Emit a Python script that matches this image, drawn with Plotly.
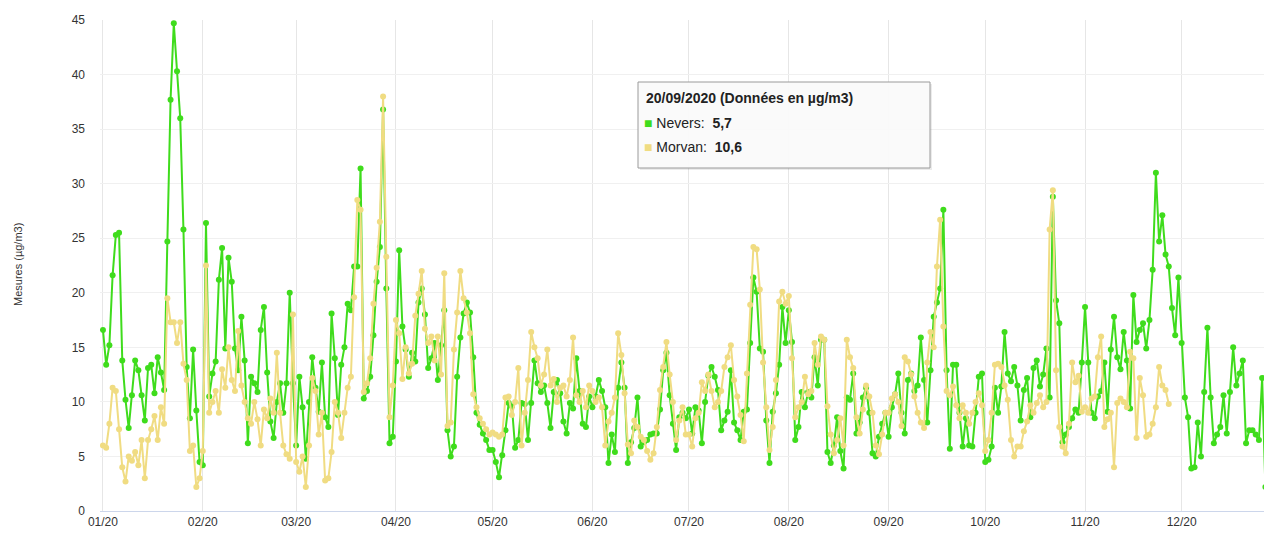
import pandas as pd
import plotly.graph_objects as go

# ---- Data (daily values, µg/m3) ----
nevers_jan = [16.6, 13.4, 15.2, 21.6, 25.3, 25.5, 13.8, 10.2, 7.6, 10.6, 13.8, 12.9, 10.6, 8.3, 13.1, 13.4, 10.8, 14.1, 12.7, 11.1, 24.7, 37.7, 44.7, 40.3, 36.0, 25.8, 13.2, 8.5, 14.8, 9.2, 4.5]
nevers_feb = [4.2, 26.4, 10.5, 12.6, 13.7, 21.2, 24.1, 14.9, 23.2, 21.0, 14.9, 12.9, 17.8, 13.8, 6.2, 12.3, 11.7, 10.9, 16.6, 18.7, 12.7, 8.2, 6.7, 10.0, 11.7, 9.0, 11.7, 20.0, 11.7]
nevers_mar = [6.0, 12.3, 9.5, 4.8, 10.0, 14.1, 11.3, 9.1, 13.6, 8.6, 7.7, 18.1, 14.0, 8.8, 13.4, 15.0, 19.0, 18.4, 22.4, 22.4, 31.4, 10.3, 11.0, 12.3, 16.1, 21.0, 24.2, 36.8, 20.4, 6.2, 6.8]
nevers_apr = [13.7, 23.9, 16.9, 14.8, 12.3, 14.5, 13.7, 19.1, 20.4, 18.0, 13.1, 14.0, 15.4, 12.0, 15.2, 18.4, 7.4, 5.0, 5.9, 12.3, 15.9, 18.1, 19.1, 18.2, 14.1, 9.0, 7.9, 7.1, 6.5, 5.6]
nevers_may = [5.6, 4.5, 3.1, 5.1, 7.4, 9.9, 9.6, 5.8, 6.5, 9.9, 9.8, 6.5, 9.9, 13.8, 11.7, 10.9, 11.5, 9.9, 7.6, 10.9, 12.0, 10.8, 8.2, 7.1, 9.9, 9.4, 14.0, 11.0, 8.0, 7.7, 10.5]
nevers_jun = [9.5, 10.5, 12.0, 11.0, 9.5, 4.4, 7.0, 5.4, 11.3, 13.6, 11.3, 4.4, 6.3, 7.6, 10.4, 5.9, 6.3, 6.5, 7.0, 7.1, 7.1, 9.3, 12.9, 14.5, 10.6, 8.0, 5.6, 8.6, 9.0, 8.5]
nevers_jul = [9.3, 7.1, 9.5, 9.2, 6.2, 10.0, 12.4, 13.2, 12.3, 11.1, 7.4, 8.3, 9.1, 12.9, 8.1, 7.4, 6.5, 9.1, 9.3, 15.4, 21.4, 20.1, 14.9, 14.6, 8.3, 4.4, 9.1, 10.8, 13.4, 18.7, 15.4]
nevers_aug = [18.4, 15.5, 6.5, 7.7, 10.9, 9.5, 10.9, 10.4, 14.1, 11.5, 15.7, 15.7, 5.4, 4.4, 6.0, 8.6, 5.5, 3.9, 10.4, 10.2, 12.6, 7.1, 8.1, 10.4, 11.3, 9.0, 5.3, 5.0, 6.8, 8.0, 9.0]
nevers_sep = [6.8, 9.5, 10.7, 12.6, 9.0, 7.1, 12.0, 12.6, 11.0, 11.5, 15.9, 12.0, 8.1, 12.9, 17.8, 19.1, 20.4, 27.6, 12.9, 5.7, 13.4, 13.4, 9.0, 5.9, 8.5, 6.0, 5.9, 9.0, 12.3, 12.6]
nevers_oct = [4.5, 4.7, 5.9, 11.3, 9.0, 11.4, 16.4, 12.6, 11.9, 13.2, 11.5, 8.3, 11.1, 12.2, 8.6, 13.1, 13.8, 11.4, 12.5, 14.9, 10.4, 28.8, 19.3, 17.2, 6.3, 7.0, 7.7, 8.5, 9.3, 9.0, 13.6]
nevers_nov = [18.7, 13.6, 9.0, 8.5, 10.5, 11.0, 13.6, 9.1, 14.8, 17.8, 14.1, 13.0, 16.4, 13.8, 9.4, 19.8, 15.5, 16.6, 17.2, 14.9, 17.5, 22.1, 31.0, 24.7, 27.1, 23.5, 22.4, 18.6, 16.1, 21.4]
nevers_dec = [15.4, 10.4, 8.6, 3.9, 4.0, 8.1, 5.0, 10.9, 16.8, 10.4, 6.2, 7.0, 7.7, 10.6, 7.1, 10.9, 15.0, 11.5, 12.6, 13.8, 6.2, 7.4, 7.4, 7.0, 6.5, 12.2, 2.2, 3.1, 8.3]

morvan_jan = [6.0, 5.8, 8.0, 11.3, 11.0, 7.5, 4.0, 2.7, 5.0, 4.6, 5.4, 4.2, 6.5, 3.0, 6.5, 7.5, 8.7, 6.5, 9.5, 8.0, 19.5, 17.3, 17.3, 15.4, 17.3, 13.5, 12.0, 5.5, 6.0, 2.2, 3.0]
morvan_feb = [5.5, 22.5, 9.0, 10.0, 11.0, 9.0, 13.0, 11.3, 15.0, 12.0, 11.0, 16.5, 11.5, 10.0, 8.5, 8.0, 10.0, 8.4, 6.0, 9.3, 8.5, 10.3, 9.0, 14.5, 9.0, 6.0, 5.2, 4.8, 18.0]
morvan_mar = [4.5, 3.6, 5.0, 2.2, 6.0, 12.2, 11.0, 7.0, 9.0, 2.8, 3.0, 5.4, 10.0, 9.0, 6.7, 9.0, 11.3, 12.3, 19.6, 28.5, 27.6, 10.9, 11.7, 14.0, 19.0, 22.3, 26.5, 38.0, 23.3, 8.6, 11.5]
morvan_apr = [17.5, 16.3, 12.1, 15.0, 12.6, 13.5, 17.9, 19.9, 22.0, 16.7, 15.4, 16.0, 13.8, 16.0, 12.5, 21.8, 7.8, 8.1, 14.8, 18.2, 22.0, 19.5, 18.2, 16.3, 10.7, 9.5, 8.5, 8.0, 7.5, 7.0]
morvan_may = [7.2, 7.0, 6.8, 7.0, 10.4, 10.5, 8.8, 10.0, 13.1, 6.0, 9.0, 12.0, 16.4, 15.0, 14.0, 11.5, 12.5, 14.8, 11.5, 12.1, 10.0, 11.3, 11.5, 10.5, 12.0, 15.9, 10.6, 10.0, 11.0, 9.5, 11.5]
morvan_jun = [11.0, 10.0, 10.4, 9.5, 6.0, 8.2, 9.0, 10.4, 16.3, 14.3, 10.8, 6.1, 5.3, 8.3, 7.7, 6.8, 6.5, 5.5, 4.7, 5.3, 7.7, 11.1, 13.2, 15.5, 12.5, 10.0, 6.5, 8.3, 9.5, 7.0]
morvan_jul = [7.0, 5.9, 8.5, 9.0, 11.8, 11.0, 12.5, 11.0, 9.5, 10.0, 11.0, 13.2, 14.1, 15.2, 12.0, 10.5, 8.8, 6.4, 12.6, 18.9, 24.2, 24.0, 20.3, 13.6, 9.5, 5.6, 7.7, 12.0, 19.2, 20.1, 19.0]
morvan_aug = [19.7, 14.0, 8.6, 9.5, 10.0, 12.3, 10.7, 11.0, 15.4, 13.4, 16.0, 15.7, 9.6, 7.0, 5.3, 6.5, 8.5, 6.0, 15.7, 14.1, 13.1, 8.6, 7.1, 9.3, 11.5, 10.5, 9.0, 6.0, 5.2, 7.0, 9.0]
morvan_sep = [9.0, 10.3, 10.7, 10.0, 7.8, 14.1, 13.7, 12.5, 10.5, 9.0, 8.1, 7.6, 13.6, 16.4, 15.0, 22.4, 26.7, 16.9, 11.0, 10.6, 11.4, 9.7, 8.5, 9.7, 9.0, 8.0, 9.0, 10.0, 10.8, 9.7]
morvan_oct = [5.5, 6.5, 9.0, 13.4, 13.5, 13.2, 11.5, 10.2, 6.5, 5.0, 5.9, 5.9, 7.3, 8.2, 9.7, 9.0, 9.9, 10.6, 9.5, 10.0, 25.8, 29.4, 12.9, 7.7, 5.9, 5.3, 8.0, 13.6, 11.8, 12.4, 9.1]
morvan_nov = [9.5, 9.0, 10.3, 10.5, 14.1, 16.0, 7.7, 8.4, 9.0, 4.0, 9.9, 10.3, 10.0, 9.5, 14.6, 14.0, 6.7, 12.2, 10.6, 6.8, 7.0, 8.0, 9.5, 13.2, 11.5, 11.1, 9.8]

tick_dates = pd.date_range("2020-01-01", "2020-12-01", freq="MS")
tick_labels = ["01/20", "02/20", "03/20", "04/20", "05/20", "06/20",
               "07/20", "08/20", "09/20", "10/20", "11/20", "12/20"]
y_ticks = [0, 5, 10, 15, 20, 25, 30, 35, 40, 45]

tooltip_date = "2020-09-20"

nevers = (nevers_jan + nevers_feb + nevers_mar + nevers_apr + nevers_may + nevers_jun +
          nevers_jul + nevers_aug + nevers_sep + nevers_oct + nevers_nov + nevers_dec)
morvan = (morvan_jan + morvan_feb + morvan_mar + morvan_apr + morvan_may + morvan_jun +
          morvan_jul + morvan_aug + morvan_sep + morvan_oct + morvan_nov)
dates_n = pd.date_range("2020-01-01", periods=len(nevers), freq="D")
dates_m = pd.date_range("2020-01-01", periods=len(morvan), freq="D")

GREEN = "#3fdc1c"
YELLOW = "#f0dc82"

fig = go.Figure()
fig.add_trace(go.Scatter(x=dates_n, y=nevers, name="Nevers", mode="lines+markers",
                         line=dict(color=GREEN, width=2),
                         marker=dict(color=GREEN, size=6)))
fig.add_trace(go.Scatter(x=dates_m, y=morvan, name="Morvan", mode="lines+markers",
                         line=dict(color=YELLOW, width=2),
                         marker=dict(color=YELLOW, size=6)))

# The page body has an 8px margin: compensate so the plot area lands at
# page pixels x 100..1272, y 20..511.
OFF = 8
W, H = 1272 - OFF, 534 - OFF
L, R, T, B = 100 - OFF, 0, 20 - OFF, 23
pw, ph = W - L - R, H - T - B
PLOT_LEFT, PLOT_BOTTOM = 100, 511


def px(x):
    return (x - PLOT_LEFT) / pw


def py(y):
    return (PLOT_BOTTOM - y) / ph


font = "Liberation Sans, Arial, sans-serif"

# Tooltip box
idx_n = list(dates_n).index(pd.Timestamp(tooltip_date))
idx_m = list(dates_m).index(pd.Timestamp(tooltip_date))
fmt = lambda v: f"{v:.1f}".replace(".", ",")
date_txt = pd.Timestamp(tooltip_date).strftime("%d/%m/%Y")

fig.add_shape(type="rect", xref="paper", yref="paper",
              x0=px(640), x1=px(932), y0=py(84), y1=py(170),
              line=dict(width=0), fillcolor="rgba(0,0,0,0.08)", layer="above")
fig.add_shape(type="rect", xref="paper", yref="paper",
              x0=px(638), x1=px(930), y0=py(82), y1=py(168),
              line=dict(color="#9a9a9a", width=1), fillcolor="rgba(250,250,250,0.97)",
              layer="above")
fig.add_annotation(xref="paper", yref="paper", x=px(644), y=py(98), xanchor="left",
                   yanchor="middle", showarrow=False,
                   text=f"<b>{date_txt} (Données en µg/m3)</b>",
                   font=dict(family=font, size=14, color="#222"))
fig.add_annotation(xref="paper", yref="paper", x=px(642), y=py(123), xanchor="left",
                   yanchor="middle", showarrow=False,
                   text=f"<span style='color:{GREEN}'>■</span> Nevers:  <b>{fmt(nevers[idx_n])}</b>",
                   font=dict(family=font, size=14, color="#222"))
fig.add_annotation(xref="paper", yref="paper", x=px(642), y=py(147), xanchor="left",
                   yanchor="middle", showarrow=False,
                   text=f"<span style='color:{YELLOW}'>■</span> Morvan:  <b>{fmt(morvan[idx_m])}</b>",
                   font=dict(family=font, size=14, color="#222"))

# Y axis title
fig.add_annotation(xref="paper", yref="paper", x=px(18), y=py(265), xanchor="center",
                   yanchor="middle", showarrow=False, textangle=-90,
                   text="Mesures (µg/m3)", font=dict(family=font, size=11, color="#333"))

x_start = pd.Timestamp("2020-01-01") - pd.Timedelta(hours=22)
x_end = x_start + pd.Timedelta(days=pw / 3.22)

fig.update_layout(
    width=W, height=H,
    margin=dict(l=L, r=R, t=T, b=B),
    paper_bgcolor="white", plot_bgcolor="white",
    showlegend=False,
    font=dict(family=font, size=12, color="#333"),
    xaxis=dict(range=[x_start, x_end], tickvals=tick_dates, ticktext=tick_labels,
               showgrid=True, gridcolor="#e6e6e6", gridwidth=1,
               showline=True, linecolor="#ccd6eb", linewidth=1,
               ticks="", tickfont=dict(size=12, color="#333"), zeroline=False),
    yaxis=dict(range=[0, 45], tickvals=y_ticks, showgrid=True, gridcolor="#f0f0f0",
               gridwidth=1, zeroline=False, showline=False, ticks="",
               tickfont=dict(size=12, color="#333"), ticklabelstandoff=14),
)

fig.write_html("out.html")
